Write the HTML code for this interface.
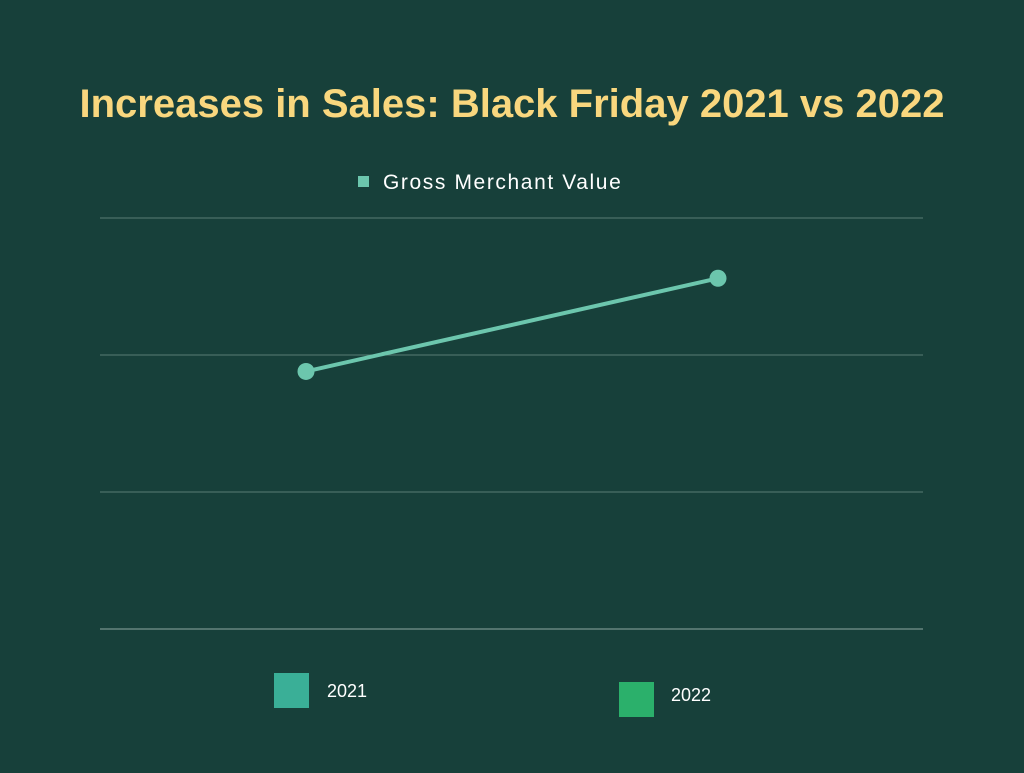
<!DOCTYPE html>
<html><head><meta charset="utf-8"><style>
body{margin:0;width:1024px;height:768px;background:#17403a;overflow:hidden;font-family:"Liberation Sans",sans-serif}
</style></head><body>
<svg width="1024" height="768">
<rect width="1024" height="768" fill="#17403a"/>
<text x="512" y="117" text-anchor="middle" fill="#f9d77e" font-size="40" font-weight="bold">Increases in Sales: Black Friday 2021 vs 2022</text>
<rect x="358" y="176" width="11" height="11" fill="#6cc6ad"/>
<text x="383" y="189" fill="#ffffff" font-size="21" letter-spacing="1.6">Gross Merchant Value</text>
<g id="grid"></g>
<g id="series"></g>
<rect x="274" y="673" width="35" height="35" fill="#3aaf97"/>
<text x="327" y="697" fill="#ffffff" font-size="18">2021</text>
<rect x="619" y="682" width="35" height="35" fill="#2bb06b"/>
<text x="671" y="701" fill="#ffffff" font-size="18">2022</text>
</svg>
<script>
const categories = ["2021", "2022"];
const gmvValues = [1.88, 2.56];
const yTicks = [0, 1, 2, 3];
const NS = "http://www.w3.org/2000/svg";
const x0 = 100, x1 = 923, yTop = 218, yBot = 629, yMax = 3;
function xPos(i){ return 306 + i * ((718 - 306)); }
function yPos(v){ return yBot - (v / yMax) * (yBot - yTop); }
const grid = document.getElementById("grid");
yTicks.forEach(t => {
  const l = document.createElementNS(NS, "line");
  
  
  l.setAttribute("x1", x0); l.setAttribute("x2", x1);
  l.setAttribute("y1", yPos(t)); l.setAttribute("y2", yPos(t));
  l.setAttribute("stroke", t === 0 ? "#8fa9a2" : "#5a7c74");
  l.setAttribute("stroke-width", "1");
  grid.appendChild(l);
});
const s = document.getElementById("series");
const pl = document.createElementNS(NS, "polyline");


pl.setAttribute("points", gmvValues.map((v, i) => xPos(i) + "," + yPos(v)).join(" "));
pl.setAttribute("fill", "none");
pl.setAttribute("stroke", "#6cc6ad");
pl.setAttribute("stroke-width", "4");
s.appendChild(pl);
gmvValues.forEach((v, i) => {
  const c = document.createElementNS(NS, "circle");
  
  
  c.setAttribute("cx", xPos(i)); c.setAttribute("cy", yPos(v));
  c.setAttribute("r", "8.5"); c.setAttribute("fill", "#6cc6ad");
  s.appendChild(c);
});
</script>
</body></html>
